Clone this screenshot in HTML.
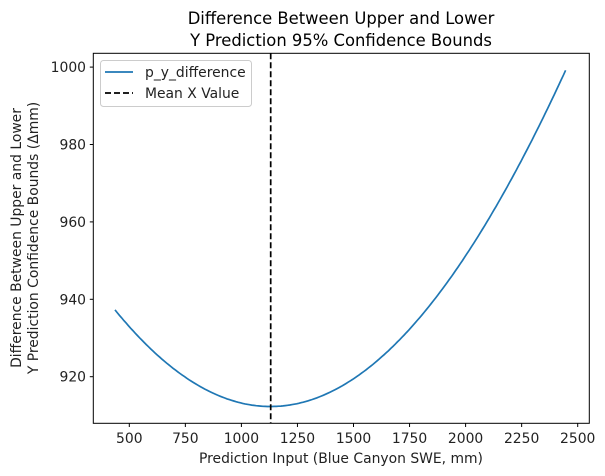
<!DOCTYPE html>
<html><head><meta charset="utf-8"><style>body{margin:0;background:#fff}svg{display:block;font-family:"DejaVu Sans","Liberation Sans",sans-serif}</style></head>
<body>
<svg id="s" width="605" height="476" xmlns="http://www.w3.org/2000/svg">
<rect width="605" height="476" fill="#fff"/>
<text x="341" y="24" font-size="16.4" text-anchor="middle">Difference Between Upper and Lower</text>
<text x="341" y="46" font-size="16.4" text-anchor="middle">Y Prediction 95% Confidence Bounds</text>
<polyline id="c" fill="none" stroke="#1f77b4" stroke-width="1.7"/>
<line x1="270.7" y1="53.3" x2="270.7" y2="423.3" stroke="#000" stroke-width="1.7" stroke-dasharray="6,3"/>
<rect x="93.3" y="53.3" width="496" height="370" fill="none" stroke="#000" stroke-width="1"/>
<g id="t" font-size="13.9" fill="#222"></g>
<text x="341" y="463" font-size="13.9" text-anchor="middle" fill="#222">Prediction Input (Blue Canyon SWE, mm)</text>
<text transform="translate(21,238) rotate(-90)" font-size="13.9" text-anchor="middle" fill="#222">Difference Between Upper and Lower</text>
<text transform="translate(38,238) rotate(-90)" font-size="13.9" text-anchor="middle" fill="#222">Y Prediction Confidence Bounds (Δmm)</text>
<rect x="100.5" y="60.5" width="151" height="46" rx="3" fill="#fff" stroke="#ccc"/>
<line x1="105" y1="72" x2="133" y2="72" stroke="#1f77b4" stroke-width="1.7"/>
<text x="145" y="77" font-size="13.9" fill="#222">p_y_difference</text>
<line x1="105" y1="93" x2="133" y2="93" stroke="#000" stroke-width="1.7" stroke-dasharray="6,3"/>
<text x="145" y="98" font-size="13.9" fill="#222">Mean X Value</text>
</svg>
<script>
var px=x=>129.3+(x-500)*0.2242, py=v=>67.1+(1000-v)*3.87;
var p=[];for(var x=436;x<=2450;x+=10){var v=912.3*Math.sqrt(1+1.152e-7*(x-1130)*(x-1130));p.push(px(x).toFixed(1)+","+py(v).toFixed(1));}
document.getElementById("c").setAttribute("points",p.join(" "));
var g=document.getElementById("t"),h="";
for(var x=500;x<=2500;x+=250){var X=px(x);h+=`<line x1="${X}" y1="423.3" x2="${X}" y2="427" stroke="#000"/><text x="${X}" y="443" text-anchor="middle">${x}</text>`;}
for(var v=920;v<=1000;v+=20){var Y=py(v);h+=`<line x1="89.8" y1="${Y}" x2="93.3" y2="${Y}" stroke="#000"/><text x="86" y="${Y+5}" text-anchor="end">${v}</text>`;}
g.innerHTML=h;
</script>
</body></html>
